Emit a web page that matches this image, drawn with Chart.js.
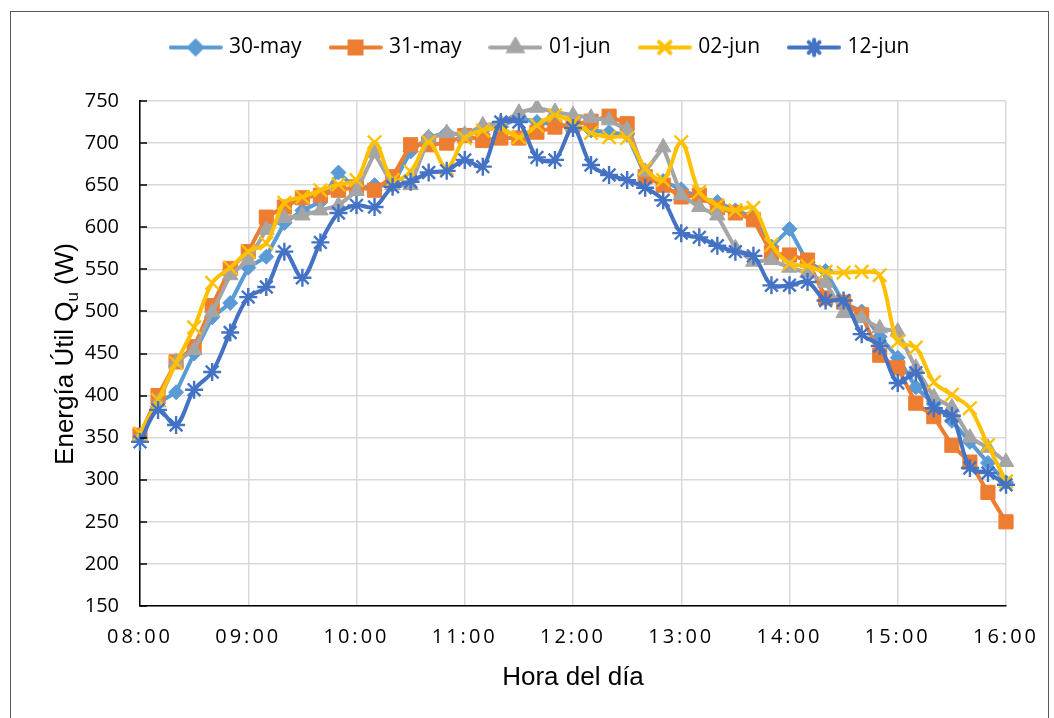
<!DOCTYPE html>
<html><head><meta charset="utf-8">
<script src="https://cdn.jsdelivr.net/npm/chart.js@4.4.1/dist/chart.umd.min.js"></script>
<style>
html,body{margin:0;padding:0;background:#fff;}
#wrap{position:relative;width:1054px;height:718px;overflow:hidden;background:#fff;}
#frame{position:absolute;left:10px;top:11px;width:1039px;height:800px;border:1.5px solid #595959;box-sizing:border-box;pointer-events:none;}
canvas{position:absolute;left:0;top:0;}
</style></head><body>
<div id="wrap"><canvas id="c" width="1054" height="718"></canvas><div id="frame"></div></div>
<script>
const timeLabels = ["08:00","08:10","08:20","08:30","08:40","08:50","09:00","09:10","09:20","09:30","09:40","09:50",
"10:00","10:10","10:20","10:30","10:40","10:50","11:00","11:10","11:20","11:30","11:40","11:50",
"12:00","12:10","12:20","12:30","12:40","12:50","13:00","13:10","13:20","13:30","13:40","13:50",
"14:00","14:10","14:20","14:30","14:40","14:50","15:00","15:10","15:20","15:30","15:40","15:50","16:00"];
const hourTicks = ["08:00","09:00","10:00","11:00","12:00","13:00","14:00","15:00","16:00"];
const seriesNames = ["30-may","31-may","01-jun","02-jun","12-jun"];
const may30 = [350,391,404,450,493,510,552,565,605,620,630,665,645,650,650,690,707,712,710,715,720,730,725,722,720,715,713,710,662,655,645,635,630,620,612,577,598,558,548,510,500,470,445,410,390,370,345,320,297];
const may31 = [353,400,440,458,507,551,571,612,624,635,638,644,648,644,660,698,698,700,709,703,706,706,713,719,722,726,732,723,660,650,636,638,623,617,609,569,567,561,516,511,496,448,433,391,375,341,321,285,250];
const jun01 = [351,392,440,454,499,543,561,597,611,614,620,626,643,688,650,650,706,712,710,721,724,736,742,737,733,730,727,716,666,695,638,624,614,575,559,561,552,546,534,498,492,480,476,433,398,386,350,338,321];
const jun02 = [355,395,439,481,534,552,571,581,629,636,644,651,656,701,656,666,701,670,706,715,718,707,721,733,724,712,707,706,670,656,701,642,626,620,623,579,557,554,547,546,547,543,464,457,416,401,385,341,298];
const jun12 = [345,383,365,407,428,475,517,529,571,540,582,617,626,624,648,654,665,667,680,672,725,725,683,680,718,674,662,656,647,632,593,588,578,571,566,531,531,535,513,513,473,459,415,427,385,376,314,308,294];
const yMin = 150, yMax = 750, yStep = 50;

const colors = ['#5B9BD5','#ED7D31','#A5A5A5','#FFC000','#4472C4'];
const styles = ['rectRot','rect','triangle','crossRot','star'];
const radii  = [7.5,10,9,9.5,9];
const pbw    = [1,1,1,2.4,2.4];
const tens   = [0,0,0,0.33,0.33];
const allData = [may30,may31,jun01,jun02,jun12];

function makeIcon(i){
  const cv = document.createElement('canvas');
  cv.width = 54; cv.height = 22;
  const g = cv.getContext('2d');
  g.strokeStyle = colors[i]; g.lineWidth = 4; g.lineCap='round';
  g.beginPath(); g.moveTo(2,11); g.lineTo(52,11); g.stroke();
  g.fillStyle = colors[i]; g.strokeStyle = colors[i];
  Chart.helpers.drawPoint(g, {pointStyle: styles[i], radius: radii[i]*0.85, rotation:0, borderWidth: pbw[i]}, 27, 11);
  return cv;
}

const datasets = seriesNames.map((n,i)=>({
  label:n, data:allData[i], yAxisID:'y',
  borderColor:colors[i], backgroundColor:colors[i],
  pointBackgroundColor:colors[i], pointBorderColor:colors[i],
  borderWidth:4, pointStyle:styles[i], pointRadius:radii[i], pointBorderWidth:pbw[i],
  pointHoverRadius:radii[i], tension:tens[i], borderJoinStyle:'round', borderCapStyle:'round',
  order: 5-i
}));

const yTitlePlugin = {
  id:'yTitle',
  afterDraw(chart){
    const ctx = chart.ctx;
    ctx.save();
    ctx.translate(63, 354);
    ctx.rotate(-Math.PI/2);
    ctx.fillStyle = '#000';
    ctx.textBaseline = 'alphabetic';
    ctx.textAlign = 'left';
    const f1 = '26px "Liberation Sans", Arial, sans-serif';
    const f2 = '17px "Liberation Sans", Arial, sans-serif';
    const p1 = 'Energía Útil Q', p2 = 'u', p3 = ' (W)';
    ctx.font = f1; const w1 = ctx.measureText(p1).width, w3 = ctx.measureText(p3).width;
    ctx.font = f2; const w2 = ctx.measureText(p2).width;
    let x = -(w1+w2+w3)/2;
    ctx.font = f1; ctx.fillText(p1, x, 9.5); x += w1;
    ctx.font = f2; ctx.fillText(p2, x, 14.5); x += w2;
    ctx.font = f1; ctx.fillText(p3, x, 9.5);
    ctx.restore();
  }
};
const innerTicksPlugin = {
  id:'innerTicks',
  afterDraw(chart){
    const ctx = chart.ctx, ys = chart.scales.y, x0 = chart.chartArea.left;
    ctx.save(); ctx.strokeStyle = '#000'; ctx.lineWidth = 1.5;
    ys.ticks.forEach(t=>{
      const py = Math.round(ys.getPixelForValue(t.value));
      ctx.beginPath(); ctx.moveTo(x0, py); ctx.lineTo(x0+7, py); ctx.stroke();
    });
    ctx.restore();
  }
};

const config = {
  type:'line',
  data:{labels:timeLabels, datasets},
  options:{
    responsive:false, animation:false, devicePixelRatio:1,
    layout:{padding:{left:28,right:0,top:6,bottom:0}},
    plugins:{
      tooltip:{enabled:false},
      legend:{
        position:'top', align:'center',
        labels:{
          usePointStyle:true, pointStyleWidth:46, padding:31, color:'#000',
          font:{family:'"Open Sans", sans-serif', size:21},
          sort:(a,b)=>a.datasetIndex-b.datasetIndex,
          generateLabels:(chart)=>{
            const items = Chart.defaults.plugins.legend.labels.generateLabels(chart);
            items.forEach(it=>{ it.pointStyle = makeIcon(it.datasetIndex); it.rotation = 0; });
            return items;
          }
        }
      }
    },
    scales:{
      x:{
        type:'category', offset:false,
        grid:{color:(c)=> hourTicks.includes(timeLabels[c.index]) ? '#d9d9d9' : 'rgba(0,0,0,0)', lineWidth:1.5, drawTicks:false},
        border:{color:'#000', width:1.5},
        ticks:{autoSkip:false, maxRotation:0, minRotation:0, padding:19, color:'#000',
          font:{family:'"Open Sans", sans-serif', size:20},
          callback:(v,i)=> hourTicks.includes(timeLabels[i]) ? timeLabels[i] : ''},
        title:{display:true, text:'Hora del día', color:'#000', font:{family:'"Liberation Sans", Arial, sans-serif', size:26}, padding:{top:0,bottom:25}},
        afterFit(s){
          s.height = 112;
          if(!s._ls){ s._ls = true; const o = s.drawLabels; s.drawLabels = function(a){ const c=this.ctx; c.save(); c.letterSpacing='3px'; o.call(this,a); c.restore(); }; }
        }
      },
      y:{
        type:'linear', position:'left', min:yMin, max:yMax,
        grid:{color:'#d9d9d9', lineWidth:1.5, drawTicks:false},
        border:{color:'#000', width:1.5},
        ticks:{stepSize:yStep, padding:21, color:'#000', font:{family:'"Open Sans", sans-serif', size:20}},
        afterFit(s){ s.width = 112; }
      },
      y2:{
        type:'linear', position:'right', display:true,
        grid:{display:false, drawOnChartArea:false}, border:{display:false},
        ticks:{display:false},
        afterFit(s){ s.width = 48; }
      }
    }
  },
  plugins:[yTitlePlugin, innerTicksPlugin]
};
const chart = new Chart(document.getElementById('c'), config);
const lg = chart.legend;
const of = lg.fit;
lg.fit = function(){ of.call(this); this.height = 95; };
chart.update();
</script>
</body></html>
